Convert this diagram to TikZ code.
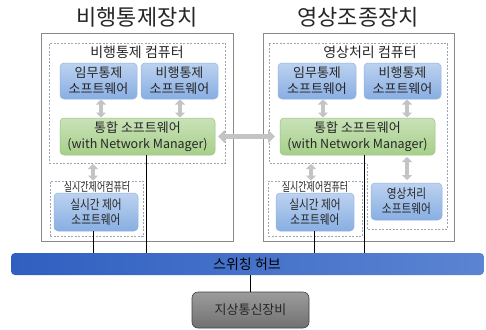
\documentclass[tikz,border=0pt]{standalone}
\usepackage{fontspec}
\setmainfont{Noto Sans CJK KR}
\usetikzlibrary{arrows.meta}
\definecolor{outerc}{HTML}{8A8A8A}
\definecolor{dashc}{HTML}{9AA6B6}
\definecolor{bluet}{HTML}{BCD2F0}
\definecolor{blueb}{HTML}{88AEE2}
\definecolor{bluebd}{HTML}{94B4E0}
\definecolor{greent}{HTML}{C9E2B8}
\definecolor{greenb}{HTML}{A6CF8A}
\definecolor{greenbd}{HTML}{98C47A}
\definecolor{arrowc}{HTML}{C4C4C4}
\definecolor{hubl}{HTML}{2F5FC0}
\definecolor{hubr}{HTML}{5B84D2}
\definecolor{gndt}{HTML}{9C9C9C}
\definecolor{gndb}{HTML}{717171}
\definecolor{gndbd}{HTML}{404040}
\definecolor{textc}{HTML}{262626}
\begin{document}
\begin{tikzpicture}[x=1pt,y=-1pt,
  box/.style={rectangle, inner sep=0pt, outer sep=0pt, align=center, text=textc},
  outerbox/.style={box, draw=outerc, line width=0.8pt, fill=white},
  dbox/.style={box, draw=dashc, line width=0.6pt, dash pattern=on 2pt off 1.5pt},
  dline/.style={draw=dashc, line width=0.6pt, dash pattern=on 2pt off 1.5pt},
  bluebox/.style={box, draw=bluebd, line width=0.5pt, top color=bluet, bottom color=blueb, rounded corners=4pt, font=\fontsize{13}{16}\selectfont},
  greenbox/.style={box, draw=greenbd, line width=0.5pt, top color=greent, bottom color=greenb, rounded corners=4pt, font=\fontsize{13}{16.5}\selectfont},
  titletext/.style={box, font=\fontsize{22}{24}\selectfont},
  comptext/.style={box, font=\fontsize{14}{15}\selectfont},
  smalltext/.style={box, font=\fontsize{12}{13}\selectfont},
  garrow/.style={draw=arrowc, line width=4pt, {Triangle[width=10pt,length=5pt]}-{Triangle[width=10pt,length=5pt]}},
  harrow/.style={draw=arrowc, line width=5pt, {Triangle[width=13pt,length=7pt]}-{Triangle[width=13pt,length=7pt]}},
  conn/.style={draw=black, line width=0.8pt}
]
\useasboundingbox (0,0) rectangle (486,329);

% titles
\node[titletext] (tL) at (137,17) {비행통제장치};
\node[titletext] (tR) at (358,17) {영상조종장치};

% outer boxes
\node[outerbox, minimum width=192pt, minimum height=208pt] (outL) at (137,137) {};
\node[outerbox, minimum width=191pt, minimum height=208pt] (outR) at (358.5,137) {};

% left computer
\node[dbox, minimum width=176pt, minimum height=120pt] (compL) at (137,103) {};
\node[comptext] (compLt) at (137,52) {비행통제 컴퓨터};
\node[bluebox, minimum width=77pt, minimum height=36pt] (swL1) at (98.5,81) {임무통제\\소프트웨어};
\node[bluebox, minimum width=77pt, minimum height=36pt] (swL2) at (179.5,81) {비행통제\\소프트웨어};
\node[greenbox, minimum width=155pt, minimum height=37pt] (grL) at (137.5,136.5) {통합 소프트웨어\\{\fontsize{12.5}{16.5}\selectfont(with Network Manager)}};

% left real-time
\node[dbox, minimum width=93pt, minimum height=55pt] (rtL) at (96.5,208.5) {};
\node[smalltext] (rtLt) at (97,187) {\scalebox{0.75}[1]{실시간제어컴퓨터}};
\node[bluebox, minimum width=84pt, minimum height=38pt, font=\fontsize{13}{15}\selectfont] (rtswL) at (96,212) {\scalebox{0.82}[1]{실시간 제어}\\\scalebox{0.82}[1]{소프트웨어}};

% right computer (L-shaped dashed outline)
\coordinate (cR1) at (269,43);
\coordinate (cR2) at (447,43);
\coordinate (cR3) at (447,229);
\coordinate (cR4) at (367,229);
\coordinate (cR5) at (367,163);
\coordinate (cR6) at (269,163);
\path[dline] (cR1) -- (cR2) -- (cR3) -- (cR4) -- (cR5) -- (cR6) -- cycle;
\node[comptext] (compRt) at (370,52) {영상처리 컴퓨터};
\node[bluebox, minimum width=78pt, minimum height=36pt] (swR1) at (317,81) {임무통제\\소프트웨어};
\node[bluebox, minimum width=77pt, minimum height=36pt] (swR2) at (402.5,81) {비행통제\\소프트웨어};
\node[greenbox, minimum width=155pt, minimum height=37pt] (grR) at (357.5,136.5) {통합 소프트웨어\\{\fontsize{12.5}{16.5}\selectfont(with Network Manager)}};
\node[bluebox, minimum width=71pt, minimum height=37pt, font=\fontsize{13}{15}\selectfont] (vid) at (406.5,201.5) {\scalebox{0.82}[1]{영상처리}\\\scalebox{0.82}[1]{소프트웨어}};

% right real-time
\node[dbox, minimum width=94pt, minimum height=55pt] (rtR) at (315,208.5) {};
\node[smalltext] (rtRt) at (315,187) {\scalebox{0.75}[1]{실시간제어컴퓨터}};
\node[bluebox, minimum width=78pt, minimum height=38pt, font=\fontsize{13}{15}\selectfont] (rtswR) at (315,212) {\scalebox{0.82}[1]{실시간 제어}\\\scalebox{0.82}[1]{소프트웨어}};

% hub and ground
\node[box, shading=axis, left color=hubl, right color=hubr, rounded corners=4pt, minimum width=473pt, minimum height=22pt] (hub) at (247.5,264) {};
\node[box, font=\fontsize{14}{15}\selectfont, text=black] (hubt) at (247,264) {스위칭 허브};
\node[box, draw=gndbd, line width=0.6pt, top color=gndt, bottom color=gndb, rounded corners=6pt, minimum width=117pt, minimum height=36pt, font=\fontsize{13}{15}\selectfont, text=textc] (gnd) at (250.5,310) {지상통신장비};

% connectors
\coordinate (xL1) at (93,0);
\coordinate (xL2) at (146,0);
\coordinate (xR1) at (314,0);
\coordinate (xR2) at (364,0);
\coordinate (xG) at (250,0);
\draw[conn] (rtswL.south -| xL1) -- (hub.north -| xL1);
\draw[conn] (grL.south -| xL2) -- (hub.north -| xL2);
\draw[conn] (rtswR.south -| xR1) -- (hub.north -| xR1);
\draw[conn] (grR.south -| xR2) -- (hub.north -| xR2);
\draw[conn] (hub.south -| xG) -- (gnd.north -| xG);

% gray arrows
\coordinate (aL1) at (101,0);
\coordinate (aL2) at (180,0);
\coordinate (aR1) at (323,0);
\coordinate (aR2) at (407,0);
\coordinate (aL3) at (93,0);
\coordinate (aR3) at (311,0);
\draw[garrow, shorten <=0.5pt, shorten >=0.5pt] (swL1.south -| aL1) -- (grL.north -| aL1);
\draw[garrow, shorten <=0.5pt, shorten >=0.5pt] (swL2.south -| aL2) -- (grL.north -| aL2);
\draw[garrow, shorten <=0.5pt, shorten >=0.5pt] (swR1.south -| aR1) -- (grR.north -| aR1);
\draw[garrow, shorten <=0.5pt, shorten >=0.5pt] (swR2.south -| aR2) -- (grR.north -| aR2);
\draw[garrow, shorten <=1pt, shorten >=0.5pt] (compL.south -| aL3) -- (rtL.north -| aL3);
\draw[garrow, shorten <=1pt, shorten >=0.5pt] (cR6 -| aR3) -- (rtR.north -| aR3);
\draw[garrow, shorten <=2pt, shorten >=3pt] (grR.south -| aR2) -- (vid.north -| aR2);
\draw[harrow, shorten <=3pt, shorten >=5pt] (grL.east) -- (grR.west);
\end{tikzpicture}
\end{document}
